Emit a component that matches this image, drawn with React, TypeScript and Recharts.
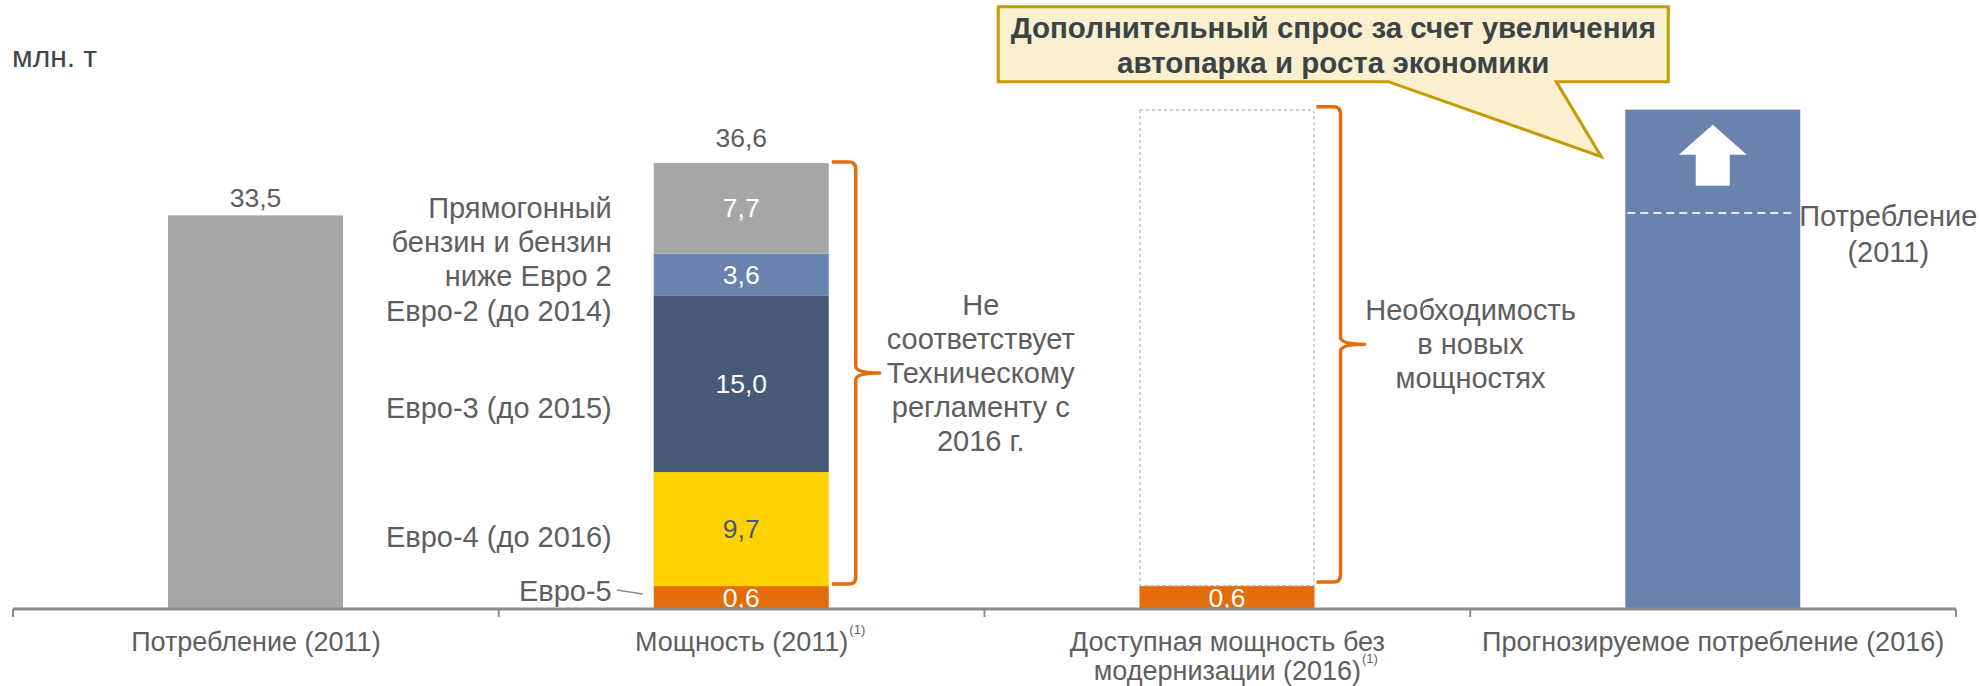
import React from 'react'
import { BarChart, Bar, XAxis, YAxis } from 'recharts'

const categories = [
  ['Потребление (2011)'],
  ['Мощность (2011)'],
  ['Доступная мощность без', 'модернизации (2016)'],
  ['Прогнозируемое потребление (2016)'],
]
const footnotes = ['', '(1)', '(1)', '']

// bar heights as drawn in the picture (the Euro-5 block is drawn taller than its 0,6)
const consumption2011 = [33.5, null, null, null]
const euro5Drawn = [null, 1.95, 1.95, null]
const euro5 = [null, 0.6, 0.6, null]
const euro4 = [null, 9.7, null, null]
const euro3 = [null, 15.0, null, null]
const euro2 = [null, 3.6, null, null]
const belowEuro2 = [null, 7.7, null, null]
const newCapacityGap = [null, null, 40.55, null]
const forecast2016 = [null, null, null, 42.5]
const consumptionMark = 33.7

const segmentNames = {
  e5: ['Евро-5'],
  e4: ['Евро-4 (до 2016)'],
  e3: ['Евро-3 (до 2015)'],
  e2: ['Евро-2 (до 2014)'],
  low: ['Прямогонный', 'бензин и бензин', 'ниже Евро 2'],
}
const braceNotes = [
  ['Не', 'соответствует', 'Техническому', 'регламенту с', '2016 г.'],
  ['Необходимость', 'в новых', 'мощностях'],
]
const calloutLines = ['Дополнительный спрос за счет увеличения', 'автопарка и роста экономики']
const markLabel = ['Потребление', '(2011)']
const unitLabel = 'млн. т'

const data = categories.map((lines, i) => ({
  name: lines.join(' '),
  cons: consumption2011[i],
  e5: euro5Drawn[i],
  e5Value: euro5[i],
  e4: euro4[i],
  e3: euro3[i],
  e2: euro2[i],
  low: belowEuro2[i],
  gap: newCapacityGap[i],
  forecast: forecast2016[i],
}))

const W = 1980
const H = 686
const MARGIN = { top: 45, right: 24, bottom: 7, left: 13 }
const FONT = "'Liberation Sans', Arial, sans-serif"
const FS_VALUE = 26.5
const FS_NOTE = 29
const FS_AXIS = 27
const TEXT = '#5E5E5E'
const GRAY = '#A6A6A6'
const ORANGE = '#E46C0A'
const YELLOW = '#FFD200'
const NAVY = '#465A78'
const BLUE = '#6983AE'
const AXIS = '#8C8C8C'

const fmt = (v) => v.toFixed(1).replace('.', ',')

let ctx = null
const textWidth = (t, font) => {
  if (!ctx) ctx = document.createElement('canvas').getContext('2d')
  ctx.font = font
  return ctx.measureText(t).width
}

const Lines = ({ x, y, lines, lh = 34, anchor = 'middle', fill = TEXT, size = FS_NOTE, weight = 'normal' }) => (
  <text x={x} y={y} textAnchor={anchor} fill={fill} fontSize={size} fontFamily={FONT} fontWeight={weight}>
    {lines.map((l, i) => (
      <tspan key={i} x={x} y={y + i * lh} dominantBaseline="central">
        {l}
      </tspan>
    ))}
  </text>
)

const Brace = ({ x0, top, bottom }) => {
  const x1 = x0 + 24
  const x2 = x1 + 24
  const mid = (top + bottom) / 2
  const r = 7
  const d = `M${x0},${top} H${x1 - r} Q${x1},${top} ${x1},${top + r} V${mid - r} Q${x1},${mid} ${x2},${mid} Q${x1},${mid} ${x1},${mid + r} V${bottom - r} Q${x1},${bottom} ${x1 - r},${bottom} H${x0}`
  return <path d={d} fill="none" stroke={ORANGE} strokeWidth={3.5} strokeLinejoin="round" />
}

const STACK = ['e5', 'e4', 'e3', 'e2', 'low', 'gap']
const SIDE_DY = { e5: -6.5, e4: 8, e3: 24, e2: 36, low: 0 }
const NOTE_DX = [101, 106]

// pixel positions of the whole stack, derived from one segment drawn by the bar scale
const stackGeometry = (payload, key, y, height) => {
  const ppu = height / payload[key]
  const total = STACK.reduce((s, k) => s + (payload[k] || 0), 0)
  const below = STACK.slice(0, STACK.indexOf(key)).reduce((s, k) => s + (payload[k] || 0), 0)
  const bottom = y + height + below * ppu
  return { ppu, top: bottom - total * ppu, bottom, e5Top: bottom - (payload.e5 || 0) * ppu }
}

const segmentShape = (key, fill, labelFill) => (props) => {
  const { x, y, width, height, payload } = props
  if (payload[key] == null || !(height > 0)) return <g />
  const cx = x + width / 2
  const cy = y + height / 2
  const value = key === 'e5' ? payload.e5Value : payload[key]
  const full = payload.e4 != null
  const name = segmentNames[key]
  let extra = null
  if (key === 'low') {
    const g = stackGeometry(payload, key, y, height)
    const total = payload.e5Value + payload.e4 + payload.e3 + payload.e2 + payload.low
    const x0 = x + width + 3
    const top = g.top - 1
    const bottom = g.e5Top - 2
    const mid = (top + bottom) / 2
    extra = (
      <g>
        <Lines x={cx} y={y - 25} lines={[fmt(total)]} size={FS_VALUE} />
        <Brace x0={x0} top={top} bottom={bottom} />
        <Lines x={x0 + 48 + NOTE_DX[0]} y={mid - ((braceNotes[0].length - 1) * 34) / 2} lines={braceNotes[0]} />
      </g>
    )
  }
  return (
    <g>
      <rect x={x} y={y} width={width} height={height} fill={fill} />
      <text x={cx} y={cy} textAnchor="middle" dominantBaseline="central" fill={labelFill} fontSize={FS_VALUE} fontFamily={FONT}>
        {fmt(value)}
      </text>
      {full && name && <Lines x={x - 42} y={cy + SIDE_DY[key]} lines={name} anchor="end" />}
      {full && key === 'e5' && (
        <line x1={x - 37} y1={cy - 7.5} x2={x - 11} y2={cy - 3.5} stroke={AXIS} strokeWidth={1.5} />
      )}
      {extra}
    </g>
  )
}

const ConsShape = (props) => {
  const { x, y, width, height, payload } = props
  if (payload.cons == null || !(height > 0)) return <g />
  return (
    <g>
      <rect x={x} y={y} width={width} height={height} fill={GRAY} />
      <Lines x={x + width / 2} y={y - 17} lines={[fmt(payload.cons)]} size={FS_VALUE} />
    </g>
  )
}

const GapShape = (props) => {
  const { x, y, width, height, payload } = props
  if (payload.gap == null || !(height > 0)) return <g />
  const g = stackGeometry(payload, 'gap', y, height)
  const x0 = x + width + 2
  const top = g.top - 3
  const bottom = g.e5Top - 4
  const mid = (top + bottom) / 2
  return (
    <g>
      <rect x={x + 0.5} y={y + 0.5} width={width - 1} height={height - 1} fill="none" stroke="#B4B4B4" strokeWidth={1.2} strokeDasharray="3 3" />
      <Brace x0={x0} top={top} bottom={bottom} />
      <Lines x={x0 + 48 + NOTE_DX[1]} y={mid - ((braceNotes[1].length - 1) * 34) / 2} lines={braceNotes[1]} />
    </g>
  )
}

const ForecastShape = (props) => {
  const { x, y, width, height, payload } = props
  if (payload.forecast == null || !(height > 0)) return <g />
  const ppu = height / payload.forecast
  const cx = x + width / 2
  const lineY = y + height - consumptionMark * ppu
  const arrow = `M${cx},${y + 15} L${cx + 34},${y + 45} L${cx + 17},${y + 45} L${cx + 17},${y + 76} L${cx - 17},${y + 76} L${cx - 17},${y + 45} L${cx - 34},${y + 45} Z`
  const bx0 = x - 627
  const bx1 = x + 43
  const by0 = y - 103
  const by1 = y - 28
  const callout = `M${bx0},${by0} H${bx1} V${by1} H${x - 69} L${x - 24},${y + 47} L${x - 237},${by1} H${bx0} Z`
  return (
    <g>
      <rect x={x} y={y} width={width} height={height} fill={BLUE} />
      <path d={arrow} fill="#FFFFFF" />
      <line x1={x + 2} y1={lineY} x2={x + width - 8} y2={lineY} stroke="#E6EBF3" strokeWidth={2} strokeDasharray="8 5" />
      <Lines x={x + width + 88} y={lineY + 3} lines={markLabel} lh={36} />
      <path d={callout} fill="#FAEFCF" stroke="#C49B00" strokeWidth={3} strokeLinejoin="miter" />
      <Lines x={(bx0 + bx1) / 2} y={by0 + 21} lines={calloutLines} lh={35} fill="#3B4346" weight="bold" size={29.5} />
    </g>
  )
}

const BAND = (W - MARGIN.left - MARGIN.right) / categories.length

const CategoryTick = (props) => {
  const { x, y, index } = props
  const lines = categories[index] || []
  const note = footnotes[index]
  const last = lines.length - 1
  const supX = x + textWidth(lines[last] || '', `${FS_AXIS}px ${FONT}`) / 2 + 1
  return (
    <g>
      <line x1={x - BAND / 2} y1={y} x2={x - BAND / 2} y2={y + 8} stroke={AXIS} strokeWidth={2} />
      {index === categories.length - 1 && (
        <line x1={x + BAND / 2} y1={y} x2={x + BAND / 2} y2={y + 8} stroke={AXIS} strokeWidth={2} />
      )}
      <Lines x={x} y={y + 33} lines={lines} lh={29} size={FS_AXIS} />
      {note && (
        <text x={supX} y={y + 33 + last * 29 - 13} dominantBaseline="central" fill={TEXT} fontSize={13} fontFamily={FONT}>
          {note}
        </text>
      )}
    </g>
  )
}

const App = () => {
  return (
    <div style={{ position: 'absolute', left: 0, top: 0, width: W, height: H, background: '#fff' }}>
      <div
        style={{
          position: 'absolute',
          left: 12,
          top: 42,
          fontFamily: FONT,
          fontSize: 30,
          lineHeight: '30px',
          color: '#3D4548',
          whiteSpace: 'nowrap',
        }}
      >
        {unitLabel}
      </div>
      <BarChart width={W} height={H} data={data} margin={MARGIN} barSize={175}>
        <XAxis
          dataKey="name"
          height={70}
          axisLine={{ stroke: AXIS, strokeWidth: 3 }}
          tickLine={false}
          tickSize={0}
          tickMargin={0}
          interval={0}
          tick={<CategoryTick />}
        />
        <YAxis hide type="number" domain={[0, 48]} />
        <Bar dataKey="cons" stackId="s" fill={GRAY} shape={ConsShape} isAnimationActive={false} />
        <Bar dataKey="e5" stackId="s" fill={ORANGE} shape={segmentShape('e5', ORANGE, '#FFFFFF')} isAnimationActive={false} />
        <Bar dataKey="e4" stackId="s" fill={YELLOW} shape={segmentShape('e4', YELLOW, NAVY)} isAnimationActive={false} />
        <Bar dataKey="e3" stackId="s" fill={NAVY} shape={segmentShape('e3', NAVY, '#FFFFFF')} isAnimationActive={false} />
        <Bar dataKey="e2" stackId="s" fill={BLUE} shape={segmentShape('e2', BLUE, '#FFFFFF')} isAnimationActive={false} />
        <Bar dataKey="low" stackId="s" fill={GRAY} shape={segmentShape('low', GRAY, '#FFFFFF')} isAnimationActive={false} />
        <Bar dataKey="gap" stackId="s" fill="none" shape={GapShape} isAnimationActive={false} />
        <Bar dataKey="forecast" stackId="s" fill={BLUE} shape={ForecastShape} isAnimationActive={false} />
      </BarChart>
    </div>
  )
}

export default App
